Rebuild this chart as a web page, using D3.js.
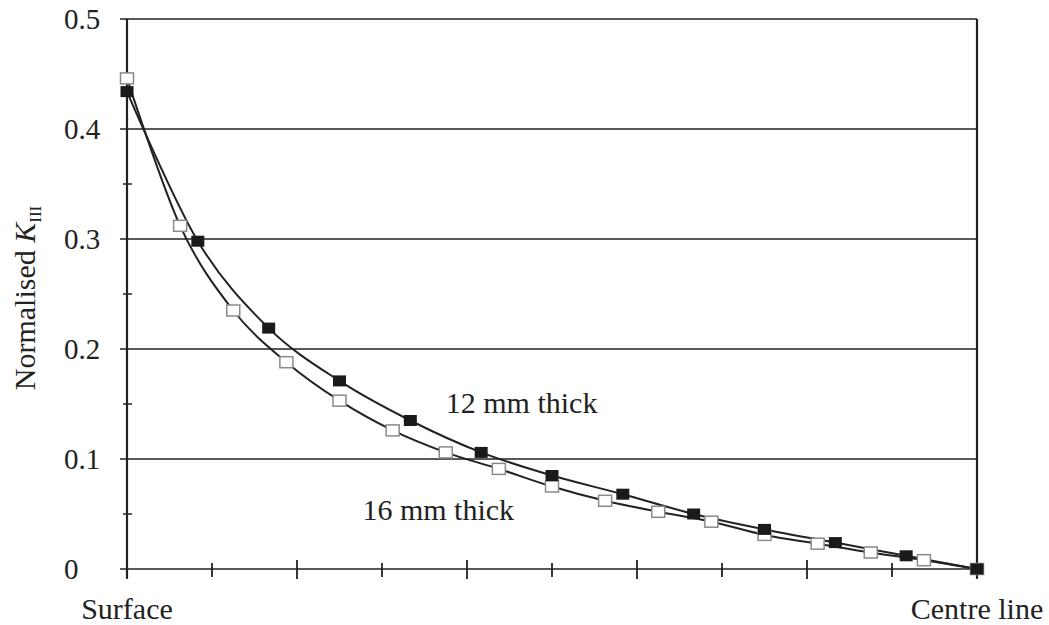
<!DOCTYPE html>
<html>
<head>
<meta charset="utf-8">
<script src="https://cdn.jsdelivr.net/npm/d3@7"></script>
<style>
  body { margin: 0; background: #fff; }
</style>
</head>
<body>
<div id="chart"></div>
<script>

// values, positions along thickness as fraction 0..1
const thick12 = [0.434, 0.298, 0.219, 0.171, 0.135, 0.106, 0.085, 0.068, 0.050, 0.036, 0.024, 0.012, 0.0];
const thick16 = [0.446, 0.312, 0.235, 0.188, 0.153, 0.126, 0.106, 0.091, 0.075, 0.062, 0.052, 0.043, 0.031, 0.023, 0.015, 0.008, 0.0];
const yTicks = [0, 0.1, 0.2, 0.3, 0.4, 0.5];
const yMinor = [0.05, 0.15, 0.25, 0.35, 0.45];
const xTicks = d3.range(0, 11).map(d => d / 10);
const xLabels = ["Surface", "Centre line"];
const seriesLabels = ["12 mm thick", "16 mm thick"];

let margin = {top: 19, right: 72, bottom: 56, left: 127},
    width = 1049 - margin.left - margin.right,
    height = 625 - margin.top - margin.bottom;

let svg = d3.select("#chart")
    .append("svg")
    .attr("width", 1049)
    .attr("height", 625)
    .style("font-family", "'Liberation Serif', Tinos, 'Times New Roman', 'DejaVu Serif', serif");

let g = svg.append("g")
    .attr("transform", "translate(" + margin.left + "," + margin.top + ")");

let x = d3.scaleLinear().domain([0, 1]).range([0, width]);
let y = d3.scaleLinear().domain([0, 0.5]).range([height, 0]);

// gridlines (0.1 .. 0.5) with short outside ticks
g.selectAll(".grid")
    .data(yTicks)
    .enter().append("line")
    .attr("x1", -7).attr("x2", width)
    .attr("y1", d => y(d)).attr("y2", d => y(d))
    .attr("stroke", "#222").attr("stroke-width", 1.7);

g.selectAll(".yminor")
    .data(yMinor)
    .enter().append("line")
    .attr("x1", -4).attr("x2", 5)
    .attr("y1", d => y(d)).attr("y2", d => y(d))
    .attr("stroke", "#222").attr("stroke-width", 1.5);

// left axis and right border
g.append("line").attr("x1", 0).attr("x2", 0).attr("y1", 0).attr("y2", height + 9)
    .attr("stroke", "#222").attr("stroke-width", 2.2);
g.append("line").attr("x1", width).attr("x2", width).attr("y1", 0).attr("y2", height + 9)
    .attr("stroke", "#222").attr("stroke-width", 2.2);

// x ticks: even ones long, odd ones short
g.selectAll(".xtick")
    .data(xTicks)
    .enter().append("line")
    .attr("x1", d => x(d)).attr("x2", d => x(d))
    .attr("y1", (d, i) => height + (i % 2 ? -6 : -9))
    .attr("y2", (d, i) => height + (i % 2 ? 8 : 10))
    .attr("stroke", "#222").attr("stroke-width", 1.8);

// y tick labels
g.selectAll(".ylab")
    .data(yTicks)
    .enter().append("text")
    .attr("x", -63)
    .attr("y", d => y(d) + 10)
    .attr("font-size", 29)
    .attr("fill", "#222")
    .text(d => d === 0 ? "0" : d3.format(".1f")(d));

// x end labels
g.selectAll(".xlab")
    .data(xLabels)
    .enter().append("text")
    .attr("x", (d, i) => x(i))
    .attr("y", height + 50)
    .attr("text-anchor", "middle")
    .attr("font-size", 30)
    .attr("fill", "#222")
    .text(d => d);

// y axis title
let yt = svg.append("text")
    .attr("transform", "translate(35,298) rotate(-90)")
    .attr("text-anchor", "middle")
    .attr("font-size", 30)
    .attr("fill", "#222");
yt.append("tspan").text("Normalised ");
yt.append("tspan").attr("font-style", "italic").text("K");
yt.append("tspan").attr("font-size", 17).attr("dy", 6).text("III");

let line = d3.line()
    .x(d => x(d[0]))
    .y(d => y(d[1]))
    .curve(d3.curveCatmullRom.alpha(0));

let pts12 = thick12.map((v, i) => [i / (thick12.length - 1), v]);
let pts16 = thick16.map((v, i) => [i / (thick16.length - 1), v]);

g.append("path").datum(pts16).attr("d", line)
    .attr("fill", "none").attr("stroke", "#222").attr("stroke-width", 2);
g.append("path").datum(pts12).attr("d", line)
    .attr("fill", "none").attr("stroke", "#222").attr("stroke-width", 2);

g.selectAll(".m16")
    .data(pts16)
    .enter().append("rect")
    .attr("x", d => x(d[0]) - 6.5).attr("y", d => y(d[1]) - 5.5)
    .attr("width", 13).attr("height", 11)
    .attr("fill", "#fff").attr("stroke", "#8a8a8a").attr("stroke-width", 1.5);

g.selectAll(".m12")
    .data(pts12)
    .enter().append("rect")
    .attr("x", d => x(d[0]) - 6.5).attr("y", d => y(d[1]) - 5.5)
    .attr("width", 13).attr("height", 11)
    .attr("fill", "#1a1a1a");

// series annotations
g.append("text").attr("x", x(0.375)).attr("y", y(0.1415))
    .attr("font-size", 30).attr("fill", "#222").text(seriesLabels[0]);
g.append("text").attr("x", x(0.277)).attr("y", y(0.0445))
    .attr("font-size", 30).attr("fill", "#222").text(seriesLabels[1]);

</script>
</body>
</html>
